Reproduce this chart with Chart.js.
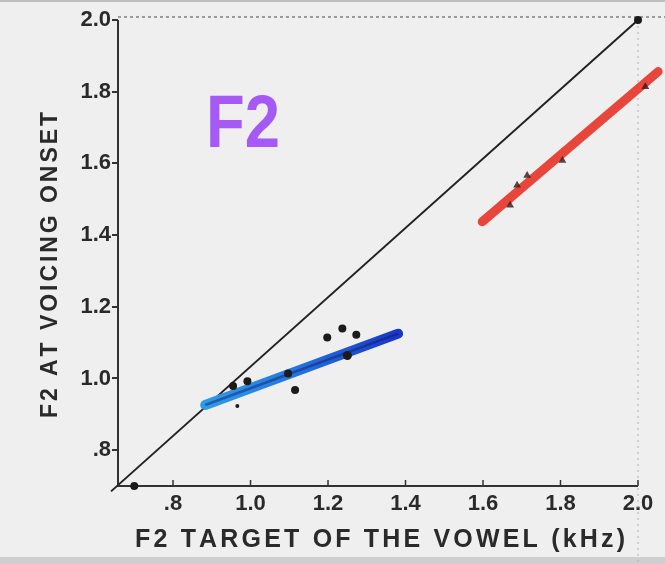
<!DOCTYPE html>
<html>
<head>
<meta charset="utf-8">
<script src="https://cdn.jsdelivr.net/npm/chart.js@4/dist/chart.umd.min.js"></script>
<style>
  html, body { margin: 0; padding: 0; background: #efefef; }
  #wrap { width: 665px; height: 564px; }
</style>
</head>
<body>
<div id="wrap"><canvas id="c" width="665" height="564"></canvas></div>
<script>
// Axis ticks (kHz) and their printed labels
const xTickValues = [0.8, 1.0, 1.2, 1.4, 1.6, 1.8, 2.0];
const xTickLabels = ['.8', '1.0', '1.2', '1.4', '1.6', '1.8', '2.0'];
const yTickValues = [0.8, 1.0, 1.2, 1.4, 1.6, 1.8, 2.0];
const yTickLabels = ['.8', '1.0', '1.2', '1.4', '1.6', '1.8', '2.0'];

// Diagonal reference line (onset = target) and its end dots
const identityX = [0.64, 2.0];
const identityY = [0.685, 2.0];
const anchorX = [0.7, 2.0];
const anchorY = [0.7, 2.0];

// Back vowels: F2 target vs. F2 at voicing onset
const backTarget = [0.955, 0.992, 0.966, 1.097, 1.115, 1.198, 1.237, 1.273, 1.25];
const backOnset  = [0.979, 0.992, 0.923, 1.014, 0.968, 1.114, 1.139, 1.122, 1.064];
const backSize   = [4, 4, 2, 4, 4, 4, 4, 4, 4.5];

// Front vowels
const frontTarget = [1.670, 1.688, 1.714, 1.805, 2.019];
const frontOnset  = [1.483, 1.539, 1.566, 1.608, 1.814];

// Fitted lines
const backFitX  = [0.883, 1.381];
const backFitY  = [0.926, 1.125];
const frontFitX = [1.598, 2.052];
const frontFitY = [1.437, 1.856];

const pts = (xs, ys) => xs.map((x, i) => ({ x, y: ys[i] }));

function blueGradient(context) {
  const chart = context.chart;
  if (!chart.chartArea || !chart.scales.x) return '#1f5fd8';
  const sx = chart.scales.x;
  const x0 = sx.getPixelForValue(backFitX[0]);
  const x1 = sx.getPixelForValue(backFitX[1]);
  const g = chart.ctx.createLinearGradient(x0, 0, x1, 0);
  g.addColorStop(0, '#2f9be8');
  g.addColorStop(0.45, '#2477e0');
  g.addColorStop(1, '#1a36c6');
  return g;
}

// Paper, frame and inward x ticks
const paper = {
  id: 'paper',
  beforeDraw(chart) {
    const { ctx, width, height } = chart;
    ctx.save();
    ctx.fillStyle = '#efefef';
    ctx.fillRect(0, 0, width, height);
    ctx.fillStyle = '#bdbdbd';
    ctx.fillRect(0, 0, width, 2);
    ctx.fillStyle = '#cfcfcf';
    ctx.fillRect(0, 557, width, height - 557);
    ctx.restore();
  },
  beforeDatasetsDraw(chart) {
    const { ctx } = chart;
    const sx = chart.scales.x, sy = chart.scales.y;
    const left = sx.getPixelForValue(sx.min);
    const bottom = sy.getPixelForValue(sy.min);
    const x2 = sx.getPixelForValue(2.0);
    const y2 = sy.getPixelForValue(2.0);
    ctx.save();
    // dotted guides at 2.0
    ctx.setLineDash([3, 3]);
    ctx.strokeStyle = '#9a9a9a';
    ctx.lineWidth = 2;
    ctx.beginPath();
    ctx.moveTo(left, y2 - 3);
    ctx.lineTo(chart.width, y2 - 3);
    ctx.stroke();
    ctx.setLineDash([2, 4]);
    ctx.strokeStyle = '#b0b0b0';
    ctx.lineWidth = 1;
    ctx.beginPath();
    ctx.moveTo(x2, y2);
    ctx.lineTo(x2, chart.height);
    ctx.stroke();
    ctx.setLineDash([]);
    // axis lines
    ctx.strokeStyle = '#333';
    ctx.lineWidth = 2;
    ctx.beginPath();
    ctx.moveTo(left, y2);
    ctx.lineTo(left, bottom);
    ctx.lineTo(x2, bottom);
    ctx.stroke();
    // inward ticks on the x axis
    ctx.lineWidth = 1.5;
    sx.ticks.forEach(t => {
      const px = sx.getPixelForValue(t.value);
      ctx.beginPath();
      ctx.moveTo(px, bottom);
      ctx.lineTo(px, bottom - 6);
      ctx.stroke();
    });
    ctx.restore();
  }
};

function spacedText(ctx, text, cx, cy, targetW) {
  const widths = [...text].map(ch => ctx.measureText(ch).width);
  const total = widths.reduce((a, b) => a + b, 0);
  const gap = (targetW - total) / (text.length - 1);
  let x = cx - targetW / 2;
  [...text].forEach((ch, i) => {
    ctx.fillText(ch, x, cy);
    x += widths[i] + gap;
  });
}

const labels = {
  id: 'labels',
  afterDraw(chart) {
    const { ctx } = chart;
    ctx.save();
    ctx.fillStyle = '#2a2a2a';
    ctx.textAlign = 'left';
    ctx.textBaseline = 'middle';
    ctx.font = "bold 25px 'Liberation Sans', Arial, sans-serif";
    spacedText(ctx, 'F2 TARGET OF THE VOWEL (kHz)', 380, 540, 490);
    ctx.translate(51, 265);
    ctx.rotate(-Math.PI / 2);
    ctx.font = "bold 23px 'Liberation Sans', Arial, sans-serif";
    spacedText(ctx, 'F2 AT VOICING ONSET', 0, 0, 306);
    ctx.restore();

    // panel tag
    ctx.save();
    ctx.font = "bold 74px 'Liberation Sans', Arial, sans-serif";
    ctx.fillStyle = '#a55af5';
    ctx.textBaseline = 'alphabetic';
    ctx.textAlign = 'left';
    const w = ctx.measureText('F2').width;
    ctx.translate(206, 147);
    ctx.scale(74 / w, 1);
    ctx.fillText('F2', 0, 0);
    ctx.restore();
  }
};

const tickFont = { family: "'Liberation Sans', Arial, sans-serif", size: 22, weight: 'bold' };

new Chart(document.getElementById('c'), {
  type: 'scatter',
  data: {
    datasets: [
      {
        label: 'identity',
        data: pts(identityX, identityY),
        showLine: true,
        borderColor: '#222',
        borderWidth: 2,
        pointRadius: 0,
        clip: false,
        order: 5
      },
      {
        label: 'anchors',
        data: pts(anchorX, anchorY),
        backgroundColor: '#1a1a1a',
        borderWidth: 0,
        pointRadius: 4,
        clip: false,
        order: 0
      },
      {
        label: 'back fit',
        data: pts(backFitX, backFitY),
        showLine: true,
        borderColor: blueGradient,
        borderWidth: 10,
        borderCapStyle: 'round',
        pointRadius: 0,
        order: 4
      },
      {
        label: 'back fit core',
        data: pts(backFitX, backFitY),
        showLine: true,
        borderColor: 'rgba(15,25,90,0.45)',
        borderWidth: 2.5,
        pointRadius: 0,
        order: 3
      },
      {
        label: 'front fit',
        data: pts(frontFitX, frontFitY),
        showLine: true,
        borderColor: '#e8453b',
        borderWidth: 9,
        borderCapStyle: 'round',
        pointRadius: 0,
        clip: false,
        order: 4
      },
      {
        label: 'back vowels',
        data: pts(backTarget, backOnset),
        backgroundColor: '#1b1b1b',
        borderWidth: 0,
        pointRadius: backSize,
        order: 1
      },
      {
        label: 'front vowels',
        data: pts(frontTarget, frontOnset),
        backgroundColor: 'rgba(50,25,25,0.8)',
        borderWidth: 0,
        pointStyle: 'triangle',
        pointRadius: 4.5,
        clip: false,
        order: 1
      }
    ]
  },
  options: {
    responsive: false,
    animation: false,
    events: [],
    layout: { padding: 0, autoPadding: false },
    plugins: { legend: { display: false }, tooltip: { enabled: false } },
    scales: {
      x: {
        type: 'linear',
        min: 0.658,
        max: 2.0697,
        afterBuildTicks(s) { s.ticks = xTickValues.map(v => ({ value: v })); },
        afterFit(s) { s.height = 78; s.paddingLeft = 0; s.paddingRight = 0; },
        border: { display: false },
        grid: { display: true, drawOnChartArea: false, drawTicks: false, color: 'rgba(0,0,0,0)' },
        ticks: {
          callback: (v, i) => xTickLabels[i],
          color: '#2a2a2a',
          font: tickFont,
          padding: 5,
          maxRotation: 0,
          autoSkip: false
        }
      },
      y: {
        type: 'linear',
        min: 0.7,
        max: 2.0557,
        afterBuildTicks(s) { s.ticks = yTickValues.map(v => ({ value: v })); },
        afterFit(s) { s.width = 118; s.paddingTop = 0; s.paddingBottom = 0; },
        border: { display: false },
        grid: { display: true, drawOnChartArea: false, drawTicks: true, tickLength: 6, color: '#333', lineWidth: 2 },
        ticks: {
          callback: (v, i) => yTickLabels[i],
          color: '#2a2a2a',
          font: tickFont,
          padding: 1,
          autoSkip: false
        }
      }
    }
  },
  plugins: [paper, labels]
});
</script>
</body>
</html>
